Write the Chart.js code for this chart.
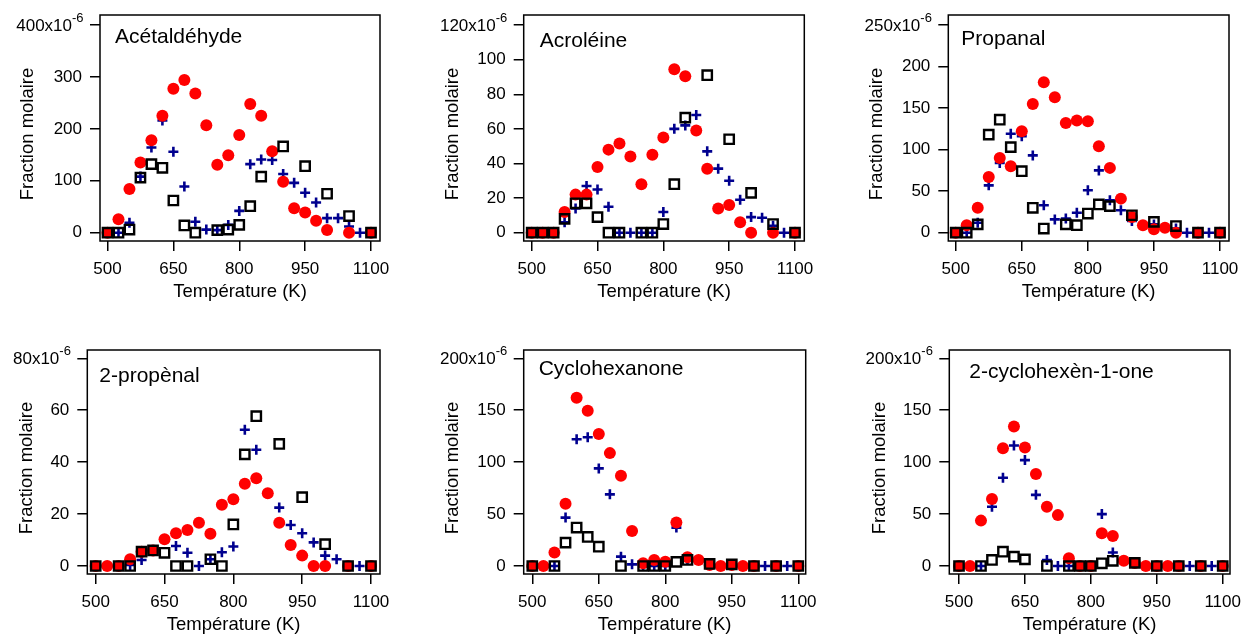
<!DOCTYPE html>
<html>
<head>
<meta charset="utf-8">
<script src="https://cdn.jsdelivr.net/npm/chart.js@4.4.0/dist/chart.umd.min.js"></script>
<style>
html,body{margin:0;padding:0;background:#fff;width:1245px;height:634px;overflow:hidden;position:relative}
canvas{position:absolute}
</style>
</head>
<body>
<script>
// ---------- DATA ----------
const temperatures = [500,525,550,575,600,625,650,675,700,725,750,775,800,825,850,875,900,925,950,975,1000,1025,1050,1075,1100];
const xTickValues = [500,650,800,950,1100];
const panelTitles = ['Acétaldéhyde','Acroléine','Propanal','2-propènal','Cyclohexanone','2-cyclohexèn-1-one'];
const xAxisTitle = 'Température (K)';
const yAxisTitle = 'Fraction molaire';
const yExponentBase = 'x10';
const yExponent = '-6';

// Acétaldéhyde
const acetaldehydeCircles = [0,26,84,135,178,225,277,294,268,207,131,149,188,248,225,157,98,47,39,23,5,null,0,null,0];
const acetaldehydeCrosses = [0,0,19,108,164,216,156,89,21,6,5,15,42,132,141,140,113,96,77,58,28,28,12,0,0];
const acetaldehydeSquares = [0,0,6,106,132,125,62,14,0,null,5,6,15,51,108,null,166,null,128,null,75,null,32,null,0];
const acetaldehydeYTicks = [0,100,200,300,400];

// Acroléine
const acroleinCircles = [0,0,0,12,22,22,38,48,51.5,44,28,45,55,94.4,90.4,59,37,14,16,6,0,null,0,null,0];
const acroleinCrosses = [0,0,0,6,14,27,25,15,0,0,0,0,12,60,62,68,47,37,30,19,9,8.6,4,0,0];
const acroleinSquares = [0,0,0,8,17,17,9,0,0,null,0,0,5,28,66.5,null,91,null,54,null,23,null,5,null,0];
const acroleinYTicks = [0,20,40,60,80,100,120];

// Propanal
const propanalCircles = [0,9,30,67,90,80,122,155,181,163,132,135,134,104,78,41,19,9,4,6,0,null,0,null,0];
const propanalCrosses = [0,0,12,57,84,119,116,93,33,16,17,24,51,75,39,27,14,null,10,null,5,0,0,0,0];
const propanalSquares = [0,0,10,118,136,103,74,30,5,null,10,9,23,34,32,null,21,null,13,null,8,null,0,null,0];
const propanalYTicks = [0,50,100,150,200,250];

// 2-propènal
const propenalCircles = [0,0,0,2.6,5.5,6,10.3,12.6,13.9,16.7,12.4,23.6,25.7,31.7,33.8,28,16.7,8.1,4,0,0,null,0,null,0];
const propenalCrosses = [0,null,0,0.4,2.3,6,null,7.7,5.1,0,2.6,5.3,7.5,52.5,44.8,null,22.5,15.8,12.6,9.1,4,2.6,0,0,0];
const propenalSquares = [0,null,0,0,5.5,6,5.1,0,0,null,2.6,0,16,43,57.7,null,47,null,26.5,null,8.4,null,0,null,0];
const propenalYTicks = [0,20,40,60,80];

// Cyclohexanone
const cyclohexanoneCircles = [0,0,13,60,162,149.5,127,108.7,87,33.8,2.6,5.8,4,41.8,8.4,5.8,1,0,1,0,0,null,0,null,0];
const cyclohexanoneCrosses = [0,null,0,46.6,122,124,94,69,9,1.6,0,0,0,37,6,null,2,null,1,null,0,0,0,0,0];
const cyclohexanoneSquares = [0,null,0,22.5,37,28,18.6,null,0,null,0,0,0,4,5.8,null,2,null,1.6,null,0,null,0,null,0];
const cyclohexanoneYTicks = [0,50,100,150,200];

// 2-cyclohexèn-1-one
const cyclohexenoneCircles = [0,0,43.7,64.6,113.5,134.4,114,88.7,57,49,7.4,0,0,31.5,29,5,3,0,0,0,0,null,0,null,0];
const cyclohexenoneCrosses = [0,null,0,57,85,116,102,68.5,5.8,0,0,0,0,50,13,null,3,null,0,null,0,0,0,0,0];
const cyclohexenoneSquares = [0,null,0,5.8,13.8,9,6.4,null,0,null,0,0,0,2.6,5,null,3,null,0,null,0,null,0,null,0];
const cyclohexenoneYTicks = [0,50,100,150,200];

// ---------- LAYOUT (frame pixel boxes and axis ranges) ----------
const panels = [
  {title: panelTitles[0], circles: acetaldehydeCircles, crosses: acetaldehydeCrosses, squares: acetaldehydeSquares, yTicks: acetaldehydeYTicks,
   L:100, T:15, R:380, B:241, xMin:482.9, xMax:1120.5, yMin:-16, yMax:419.2, yTitleOff:71.7, titleDx:15, titleDy:27.5},
  {title: panelTitles[1], circles: acroleinCircles, crosses: acroleinCrosses, squares: acroleinSquares, yTicks: acroleinYTicks,
   L:523.7, T:15, R:804.3, B:241, xMin:481.8, xMax:1121.2, yMin:-4.8, yMax:125.8, yTitleOff:71, titleDx:16, titleDy:31.5},
  {title: panelTitles[2], circles: propanalCircles, crosses: propanalCrosses, squares: propanalSquares, yTicks: propanalYTicks,
   L:948.3, T:15, R:1229, B:241, xMin:483.2, xMax:1120.4, yMin:-10, yMax:262, yTitleOff:71.3, titleDx:13, titleDy:30},
  {title: panelTitles[3], circles: propenalCircles, crosses: propenalCrosses, squares: propenalSquares, yTicks: propenalYTicks,
   L:87.3, T:350, R:380, B:574, xMin:481.7, xMax:1119.6, yMin:-3.08, yMax:83.2, yTitleOff:60.6, titleDx:12, titleDy:31.5},
  {title: panelTitles[4], circles: cyclohexanoneCircles, crosses: cyclohexanoneCrosses, squares: cyclohexanoneSquares, yTicks: cyclohexanoneYTicks,
   L:523.7, T:350, R:805.7, B:574, xMin:480.6, xMax:1116.7, yMin:-7.7, yMax:208, yTitleOff:70.7, titleDx:15, titleDy:25},
  {title: panelTitles[5], circles: cyclohexenoneCircles, crosses: cyclohexenoneCrosses, squares: cyclohexenoneSquares, yTicks: cyclohexenoneYTicks,
   L:949.3, T:350, R:1230, B:574, xMin:477.9, xMax:1116.6, yMin:-7.7, yMax:208, yTitleOff:69.3, titleDx:20, titleDy:28}
];

const FONT = '"Liberation Sans", Arial, Helvetica, sans-serif';
Chart.defaults.font.family = FONT;
Chart.defaults.color = '#000';

function toPoints(values) {
  const pts = [];
  values.forEach((v, i) => { if (v !== null) pts.push({x: temperatures[i], y: v}); });
  return pts;
}

const panelPlugin = {
  id: 'panelDecor',
  beforeDatasetsDraw(chart, args, o) {
    const {ctx, chartArea: a} = chart;
    ctx.save();
    ctx.strokeStyle = '#000';
    ctx.lineWidth = 1.5;
    ctx.strokeRect(a.left, a.top, a.right - a.left, a.bottom - a.top);
    ctx.restore();
  },
  afterDraw(chart, args, o) {
    const {ctx, chartArea: a} = chart;
    const p = o.panel;
    ctx.save();
    ctx.fillStyle = '#000';
    // top tick label with exponent
    const topVal = p.yTicks[p.yTicks.length - 1];
    const yTop = chart.scales.y.getPixelForValue(topVal);
    ctx.font = '17px ' + FONT;
    ctx.textAlign = 'right';
    ctx.textBaseline = 'middle';
    ctx.fillText(String(topVal) + yExponentBase, a.left - 28, yTop + 1);
    ctx.font = '13px ' + FONT;
    ctx.textAlign = 'left';
    ctx.fillText(yExponent, a.left - 28, yTop - 6.5);
    // panel title
    ctx.font = '21px ' + FONT;
    ctx.textAlign = 'left';
    ctx.textBaseline = 'alphabetic';
    ctx.fillText(p.title, a.left + p.titleDx, a.top + p.titleDy);
    // x axis title
    ctx.font = '18.5px ' + FONT;
    ctx.textAlign = 'center';
    ctx.textBaseline = 'middle';
    ctx.fillText(xAxisTitle, (a.left + a.right) / 2, a.bottom + 51);
    // y axis title
    ctx.translate(a.left - p.yTitleOff, (a.top + a.bottom) / 2 + 6);
    ctx.rotate(-Math.PI / 2);
    ctx.fillText(yAxisTitle, 0, 0);
    ctx.restore();
  }
};

panels.forEach((p) => {
  const cLeft = Math.floor(p.L - 100);
  const cTop = Math.floor(p.T - 22);
  const cRight = Math.ceil(p.R + 24);
  const cBottom = Math.round(p.B + 60);
  const yw = p.L - cLeft;
  const padTop = p.T - cTop;
  const padRight = cRight - p.R;
  const xh = cBottom - p.B;

  const canvas = document.createElement('canvas');
  canvas.width = cRight - cLeft;
  canvas.height = cBottom - cTop;
  canvas.style.left = cLeft + 'px';
  canvas.style.top = cTop + 'px';
  canvas.style.width = (cRight - cLeft) + 'px';
  canvas.style.height = (cBottom - cTop) + 'px';
  document.body.appendChild(canvas);

  const axisGrid = {drawOnChartArea: false, drawTicks: true, tickLength: 10, color: '#000', lineWidth: 1.5};

  new Chart(canvas, {
    type: 'scatter',
    data: {
      datasets: [
        {label: 'squares', data: toPoints(p.squares), order: 0, showLine: false,
         pointStyle: 'rect', pointRadius: 6.6, pointBorderWidth: 2.4,
         pointBorderColor: '#000', pointBackgroundColor: 'rgba(0,0,0,0)'},
        {label: 'circles', data: toPoints(p.circles), order: 1, showLine: false,
         pointStyle: 'circle', pointRadius: 6, pointBorderWidth: 0,
         pointBorderColor: '#ff0000', pointBackgroundColor: '#ff0000'},
        {label: 'crosses', data: toPoints(p.crosses), order: 2, showLine: false,
         pointStyle: 'cross', pointRadius: 5, pointBorderWidth: 2.6,
         pointBorderColor: '#00008f', pointBackgroundColor: '#00008f'}
      ]
    },
    options: {
      responsive: false,
      animation: false,
      devicePixelRatio: 1,
      events: [],
      layout: {padding: {left: 0, top: padTop, right: padRight, bottom: 0}},
      plugins: {legend: {display: false}, tooltip: {enabled: false}, panelDecor: {panel: p}},
      scales: {
        x: {
          type: 'linear', position: 'bottom', min: p.xMin, max: p.xMax,
          afterBuildTicks: (s) => { s.ticks = xTickValues.map(v => ({value: v})); },
          afterFit: (s) => { s.height = xh; },
          ticks: {autoSkip: false, maxRotation: 0, padding: 8, color: '#000', font: {size: 17},
                  callback: (v) => String(v)},
          grid: axisGrid,
          border: {display: false}
        },
        y: {
          type: 'linear', position: 'left', min: p.yMin, max: p.yMax,
          afterBuildTicks: (s) => { s.ticks = p.yTicks.map(v => ({value: v})); },
          afterFit: (s) => { s.width = yw; },
          ticks: {autoSkip: false, padding: 8, color: '#000', font: {size: 17},
                  callback: (v) => (v === p.yTicks[p.yTicks.length - 1] ? '' : String(v))},
          grid: axisGrid,
          border: {display: false}
        }
      }
    },
    plugins: [panelPlugin]
  });
});
</script>
</body>
</html>
